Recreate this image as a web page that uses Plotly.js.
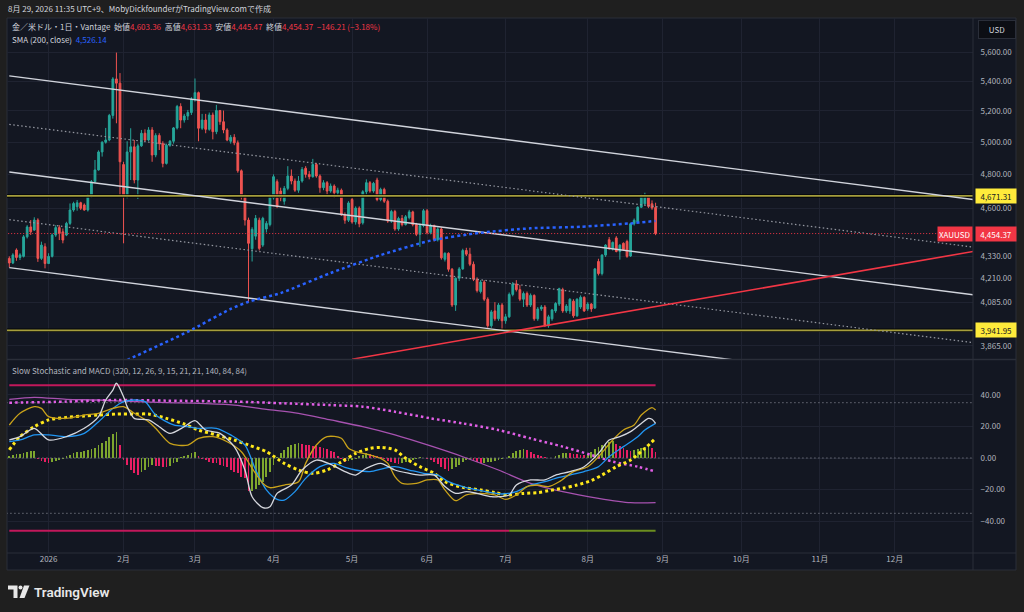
<!DOCTYPE html>
<html><head><meta charset="utf-8">
<script src="https://cdn.plot.ly/plotly-3.0.1.min.js"></script>
<style>html,body{margin:0;padding:0;background:#1f1f1f;overflow:hidden}</style>
</head><body><div id="chart" style="width:1024px;height:612px"></div>
<script>
// ---------------- DATA ----------------
const monthLabels = ['2026','2月','3月','4月','5月','6月','7月','8月','9月','10月','11月','12月'];
const monthStartBar = [11,32,52,74,96,117,139,162,183,205,227,248];

const openP = [4317,4292,4363,4322,4328,4436,4492,4474,4531,4317,
4381,4289,4328,4446,4488,4464,4446,4512,4589,4608,
4631,4618,4589,4666,4756,4827,4938,4999,5013,5171,
5415,5386,4860,4666,4938,4970,4766,4976,5056,5013,
5077,4919,5042,4990,4867,4980,5005,5090,5230,5141,
5167,5190,5278,5322,5088,5141,5081,5174,5066,5203,
5130,5077,5005,5030,4995,4822,4666,4531,4370,4440,
4530,4390,4480,4505,4660,4756,4700,4640,4716,4790,
4760,4705,4760,4837,4800,4786,4860,4790,4720,4750,
4700,4730,4690,4705,4560,4530,4650,4520,4600,4515,
4696,4750,4700,4766,4650,4710,4640,4525,4580,4480,
4540,4505,4545,4578,4505,4450,4500,4585,4460,4500,
4420,4480,4312,4345,4258,4070,4210,4260,4360,4340,
4285,4205,4140,4190,4100,3965,4040,4000,4070,3990,
4010,4125,4180,4150,4100,4130,4070,4120,4000,4050,
4060,3965,4000,4040,4075,4150,4040,4040,4090,4015,
4060,4110,4050,4075,4055,4300,4235,4335,4420,4370,
4430,4355,4400,4410,4330,4510,4520,4605,4625,4665,
4625,4603.36];
const highP = [4328,4345,4372,4345,4446,4502,4531,4547,4541,4409,
4400,4345,4455,4502,4502,4483,4521,4627,4637,4647,
4637,4627,4682,4766,4888,4948,5005,5090,5181,5427,
5598,5455,4877,5005,5088,5013,4990,5077,5081,5095,
5095,5056,5056,5005,4990,5013,5096,5240,5251,5181,
5207,5292,5418,5329,5181,5181,5190,5190,5240,5207,
5203,5088,5045,5050,5010,4830,4680,4545,4490,4560,
4545,4550,4525,4680,4800,4770,4720,4730,4850,4830,
4775,4790,4845,4850,4820,4895,4870,4800,4765,4760,
4745,4740,4720,4715,4575,4640,4660,4610,4610,4705,
4770,4760,4755,4780,4720,4720,4650,4590,4590,4550,
4560,4560,4590,4585,4515,4510,4595,4595,4510,4505,
4490,4490,4350,4350,4265,4215,4270,4370,4375,4375,
4300,4215,4200,4200,4110,4045,4085,4080,4080,4025,
4135,4190,4200,4175,4140,4140,4130,4125,4060,4070,
4070,4020,4050,4085,4160,4160,4075,4105,4100,4105,
4120,4115,4085,4080,4265,4315,4340,4395,4435,4410,
4440,4395,4405,4420,4515,4540,4610,4680,4690,4675,
4645,4631.33];
const lowP = [4268,4286,4304,4308,4322,4427,4446,4470,4298,4308,
4263,4286,4322,4436,4418,4400,4440,4502,4579,4585,
4589,4585,4580,4662,4750,4823,4909,4990,5005,5150,
5120,4666,4400,4657,4766,4746,4653,4970,5005,5005,
4877,4905,4950,4843,4860,4970,4990,5080,5088,5124,
5141,5174,5262,5005,5077,5056,5072,5017,5050,5110,
5056,5005,4990,4980,4810,4650,4500,4087,4300,4420,
4360,4380,4460,4495,4650,4600,4640,4620,4705,4740,
4695,4690,4750,4780,4770,4780,4780,4690,4705,4680,
4690,4660,4670,4555,4510,4520,4510,4505,4490,4505,
4680,4690,4690,4640,4640,4630,4515,4515,4470,4470,
4495,4500,4535,4495,4440,4380,4490,4450,4450,4410,
4410,4310,4300,4245,4060,4040,4195,4255,4330,4275,
4195,4135,4130,4090,3955,3955,3990,3990,3942,3975,
4005,4115,4140,4090,4060,4060,4060,3990,3990,4040,
3960,3955,3990,4030,4065,4030,4030,4025,4005,4010,
4050,4035,4040,4035,4050,4225,4225,4325,4365,4360,
4350,4310,4360,4320,4325,4500,4515,4600,4620,4600,
4590,4445.47];
const closeP = [4292,4336,4322,4336,4436,4492,4464,4531,4317,4390,
4289,4328,4446,4488,4455,4418,4512,4589,4627,4631,
4599,4589,4666,4756,4827,4938,4999,5013,5171,5415,
5386,4877,4666,4938,4970,4766,4976,5056,5013,5077,
4919,5042,4990,4867,4980,5005,5090,5230,5141,5167,
5190,5278,5322,5088,5141,5081,5174,5066,5203,5130,
5077,5013,5030,4995,4822,4666,4531,4400,4478,4541,
4372,4541,4512,4666,4786,4610,4660,4716,4790,4760,
4705,4760,4830,4800,4786,4860,4790,4720,4750,4700,
4730,4690,4705,4560,4530,4630,4520,4600,4510,4696,
4750,4700,4746,4650,4710,4640,4525,4580,4480,4540,
4505,4550,4578,4505,4450,4500,4585,4460,4500,4420,
4480,4320,4345,4258,4070,4210,4260,4360,4340,4285,
4205,4145,4190,4100,3965,4035,4000,4070,3990,4010,
4125,4180,4150,4100,4130,4070,4120,4000,4050,4060,
3965,4010,4045,4078,4155,4040,4065,4100,4015,4100,
4110,4040,4075,4050,4260,4235,4335,4390,4370,4405,
4355,4390,4365,4328,4510,4530,4605,4670,4665,4610,
4600.58,4454.37];

const smaBar = [33,50,62,67,76,90,104,118,132,146,160,174,181];
const smaVal = [3797,3935,4050,4087,4132,4238,4335,4415,4459,4484,4493,4512,4526.14];

const channelBar = [0, 270];
const channelTop = [5436, 4650];
const channelUpperDot = [5113, 4379];
const channelMid = [4814.5, 4123];
const channelLowerDot = [4533.5, 3881];
const channelBottom = [4267, 3654];
const supportBar = [96, 270];
const supportVal = [3801, 4355];
const resistanceLevel = 4671.31;
const supportLevel = 3941.95;
const priceTicks = [3865, 3945, 4085, 4210, 4330, 4600, 4800, 5000, 5200, 5400, 5600];

const oscTicks = [-40, -20, 0, 20, 40];
const oscBand = 46;
const oscGuides = [35, 0, -35];
const lowerBandTurnBar = 140;

const macdHist = [1.2,1.8,2.3,2.6,3.4,3.9,4.4,4.6,-0.8,-1.8,
-2.8,-3.2,-2.4,-1.6,-1.0,-0.4,1.0,2.0,3.0,3.6,
4.0,4.6,5.0,5.6,6.5,8.0,9.5,11.0,13.5,15.0,
16.5,8.5,-1.0,-4.4,-7.6,-9.7,-10.8,-8.6,-7.6,-5.5,
-4.4,-4.8,-5.2,-5.6,-5.8,-5.0,-3.4,-2.3,0.8,1.5,
2.0,3.0,4.0,1.0,-0.5,-1.3,-2.3,-3.0,-3.4,-4.4,
-5.0,-5.9,-7.6,-8.6,-9.7,-11.8,-12.9,-21.0,-20.8,-19.8,
-17.1,-15.0,-11.8,-8.6,-4.4,0.5,2.9,5.1,6.8,8.2,
8.9,9.2,8.9,8.5,8.2,7.6,7.3,6.8,6.1,5.5,
4.6,4.0,1.5,-0.8,-2.5,-2.2,-1.5,-0.5,1.0,2.2,
3.0,2.6,2.0,1.2,0.5,-0.8,-1.8,-2.6,-3.2,-3.6,
-3.0,-2.4,-1.8,-1.0,-0.4,0.5,0.3,-0.5,-1.5,-2.5,
-4.0,-5.5,-6.8,-8.0,-7.2,-5.8,-4.2,-2.8,-1.4,-0.8,
-1.6,-2.6,-3.1,-2.9,-2.6,-2.3,-2.0,-1.5,-0.9,-0.2,
1.0,3.0,4.5,5.2,5.6,5.0,4.0,2.5,2.0,1.0,
0.5,0.3,0.2,1.0,2.0,3.0,3.2,3.0,2.6,2.4,
2.0,1.8,2.5,4.0,5.5,6.8,8.2,9.7,10.3,10.5,
8.9,7.6,6.1,5.1,4.6,4.8,5.5,6.1,6.8,7.6,
6.1,4.0];

const stochWhiteBar = [0,3,7,11,16,21,25,27,29,30,32,33,35,39,42,45,49,52,55,59,63,66,68,71,73,75,79,82,86,90,94,97,100,104,108,112,115,119,122,125,128,131,135,137,140,142,146,150,153,157,161,165,168,171,174,177,179,180,181];
const stochWhite = [11.4,13.5,18.8,11.4,13.5,18.8,26.2,36.7,43.0,47.3,38.8,32.5,25.1,24.1,19.8,15.6,19.8,23.6,17.7,15.6,7.2,-7.6,-24.5,-31.4,-30.8,-22.4,-17.1,-7.6,-1.3,-4.0,-8.6,-10.8,-6.5,-3.4,-7.6,-9.7,-10.8,-10.8,-18.1,-22.4,-21.3,-22.4,-24.5,-24.5,-23.4,-17.1,-13.9,-13.9,-10.8,-8.6,-5.5,2.9,11.4,13.5,16.7,21.9,25.1,24.5,21.9];
const stochGoldBar = [0,3,7,9,11,16,21,25,29,32,35,39,41,45,50,53,57,61,65,68,71,73,77,81,83,86,89,93,95,97,101,104,106,108,110,114,117,120,122,125,128,132,136,139,142,145,148,151,154,158,162,165,169,172,175,177,180,181];
const stochGold = [20.9,28.3,32.5,31.4,26.2,25.1,27.2,28.3,31.4,32.5,28.3,23.0,18.8,9.3,8.2,12.4,13.5,10.3,4.0,-6.5,-16.0,-18.8,-17.1,-15.0,-3.4,8.2,13.5,12.5,6.1,4.0,1.9,-0.2,-3.4,-11.8,-16.0,-16.0,-13.9,-13.9,-20.2,-27.0,-23.4,-22.4,-23.4,-26.2,-23.4,-18.1,-17.1,-18.1,-15.0,-8.6,-5.5,0.8,11.4,17.7,20.9,27.2,31.9,30.4];
const stochBlueBar = [0,3,7,11,16,21,25,29,32,35,38,41,46,50,53,58,62,66,69,72,75,77,80,83,87,91,94,97,101,105,108,112,116,120,123,127,131,135,138,142,146,150,153,157,161,165,168,172,176,178,181];
const stochBlue = [10.3,11.4,14.6,14.6,13.5,15.6,23.0,31.4,35.7,36.7,35.7,27.2,20.9,19.8,18.8,18.8,14.6,8.2,-7.6,-20.2,-26.2,-26.6,-21.3,-12.9,-5.5,-3.4,-5.9,-7.6,-8.6,-6.5,-5.5,-7.6,-9.7,-10.8,-15.0,-18.1,-20.2,-21.9,-22.8,-21.3,-17.1,-15.0,-12.9,-10.8,-8.6,-5.5,0.8,7.2,13.5,17.7,21.9];
const yellowDotBar = [0,3,7,11,16,21,25,30,35,39,44,49,53,58,63,67,72,77,81,85,89,93,97,101,104,108,111,115,119,122,127,132,136,140,144,148,151,155,159,163,166,170,174,178,181];
const yellowDot = [5.1,13.5,19.8,24.1,25.7,26.6,27.2,27.8,27.8,27.8,25.1,21.5,17.7,14.6,11.4,8.2,4.0,-3.4,-7.6,-9.7,-7.5,-2.5,2.9,6.1,6.7,5.1,-0.2,-5.5,-9.7,-15.0,-18.6,-20.2,-21.9,-23.4,-22.4,-21.9,-20.7,-19.2,-17.1,-14.3,-10.8,-5.5,-1.3,6.1,12.4];
const magentaDotBar = [0,16,30,44,63,77,90,99,108,118,127,137,146,155,163,169,176,181];
const magentaDot = [35.0,35.7,36.7,36.3,35.7,34.6,33.5,32.5,29.3,25.1,21.9,17.7,12.4,7.2,1.9,-2.3,-5.5,-8.6];
const purpleBar = [0,7,16,25,35,44,53,63,72,81,90,99,108,118,127,137,146,155,165,174,181];
const purpleVal = [37.1,38.4,37.1,36.7,35.7,35.0,34.6,33.5,30.8,28.3,24.1,19.8,14.6,7.6,0.8,-7.6,-16.0,-21.3,-25.5,-28.3,-28.3];

// ---------------- HELPERS ----------------
const W = 1024, H = 612, L = 7, R = 973, T = 18, B = 553;
const fx = p => (p - L) / (R - L);
const fy = p => (B - p) / (B - T);
const fmt = v => Math.abs(v).toLocaleString('en-US', {minimumFractionDigits: 2, maximumFractionDigits: 2});
const fmtS = v => (v < 0 ? '−' : '') + fmt(v);
const FONT = 'Noto Sans CJK JP, Noto Sans, sans-serif';
const bars = openP.map((_, k) => k);
const last = bars.length - 1;
const lastClose = closeP[last];
const chg = closeP[last] - closeP[last - 1];
const chgPct = chg / closeP[last - 1] * 100;

// ---------------- TRACES ----------------
const traces = [];
traces.push({type:'candlestick', x:bars, open:openP, high:highP, low:lowP, close:closeP,
  xaxis:'x', yaxis:'y', hoverinfo:'skip', whiskerwidth:0,
  increasing:{line:{color:'#26a69a', width:1}, fillcolor:'#26a69a'},
  decreasing:{line:{color:'#ef5350', width:1}, fillcolor:'#ef5350'}});

function pline(x, y, color, width, dash, yaxis) {
  traces.push({type:'scatter', mode:'lines', x:x, y:y, xaxis:'x', yaxis:yaxis || 'y',
    hoverinfo:'skip', line:{color:color, width:width, dash:dash || 'solid'}});
}
const span = [-2, 272];
[resistanceLevel, supportLevel].forEach(lv => {
  pline(span, [lv, lv], '#050608', 3.5);
  pline(span, [lv, lv], '#a59e3c', 1.8);
});
pline(channelBar, channelTop, '#d1d4dc', 1.4);
pline(channelBar, channelUpperDot, '#9598a1', 1.2, '1.5px,2.5px');
pline(channelBar, channelMid, '#d1d4dc', 1.4);
pline(channelBar, channelLowerDot, '#9598a1', 1.2, '1.5px,2.5px');
pline(channelBar, channelBottom, '#d1d4dc', 1.4);
pline(supportBar, supportVal, '#f23645', 1.6);
pline(span, [lastClose, lastClose], '#f23645', 1, '1px,2px');
traces.push({type:'scatter', mode:'lines', x:smaBar, y:smaVal, xaxis:'x', yaxis:'y', hoverinfo:'skip',
  line:{color:'#2962ff', width:2.5, dash:'3px,3px', shape:'spline', smoothing:0.6}});

// lower pane
pline([0, last], [oscBand, oscBand], '#c2185b', 2, 'solid', 'y2');
pline([0, lowerBandTurnBar], [-oscBand, -oscBand], '#c2185b', 2, 'solid', 'y2');
pline([lowerBandTurnBar, last], [-oscBand, -oscBand], '#6b8e1f', 2, 'solid', 'y2');
oscGuides.forEach(g => pline(span, [g, g], '#6a6d78', 1, '1.5px,2.5px', 'y2'));
const histColors = macdHist.map((v, k) => (k === 0 || v > macdHist[k - 1]) ? '#7ea62e' : '#e91e63');
traces.push({type:'bar', x:bars, y:macdHist, xaxis:'x', yaxis:'y2', width:0.5, hoverinfo:'skip',
  marker:{color:histColors, line:{width:0}}});
function sline(x, y, color, width, dash) {
  traces.push({type:'scatter', mode:'lines', x:x, y:y, xaxis:'x', yaxis:'y2', hoverinfo:'skip',
    line:{color:color, width:width, dash:dash || 'solid', shape:'spline', smoothing:0.8}});
}
sline(purpleBar, purpleVal, '#a752b0', 1.3);
sline(magentaDotBar, magentaDot, '#e15fe6', 2.5, '2.5px,3px');
sline(yellowDotBar, yellowDot, '#ffe81a', 3, '3px,3px');
sline(stochBlueBar, stochBlue, '#2196f3', 1.3);
sline(stochGoldBar, stochGold, '#c9a21a', 1.3);
sline(stochWhiteBar, stochWhite, '#d6d8de', 1.3);

// ---------------- LAYOUT ----------------
const grid = '#1f2331';
const axFont = {family: FONT, size: 8, color: '#b2b5be'};
const red = '#f23645';
const legend1 = '金／米ドル・1日・Vantage\u00a0\u00a0始値<span style="color:' + red + '">' + fmt(openP[last]) +
  '</span>\u00a0\u00a0高値<span style="color:' + red + '">' + fmt(highP[last]) +
  '</span>\u00a0\u00a0安値<span style="color:' + red + '">' + fmt(lowP[last]) +
  '</span>\u00a0\u00a0終値<span style="color:' + red + '">' + fmt(closeP[last]) +
  '</span>\u00a0\u00a0<span style="color:' + red + '">' + fmtS(chg) + ' (' + fmtS(chgPct) + '%)</span>';
const legend2 = 'SMA (200, close)\u00a0\u00a0<span style="color:#2962ff">' + fmt(smaVal[smaVal.length - 1]) + '</span>';

function axisLabel(v, bg, fg) {
  return {xref:'paper', yref:'y', x:1, xshift:2, y:Math.log10(v), xanchor:'left', yanchor:'middle',
    text:fmt(v), showarrow:false, bgcolor:bg, width:38, height:12, borderpad:1,
    font:{family:FONT, size:8, color:fg}};
}
const annotations = [
  {xref:'paper', yref:'paper', x:fx(6), y:fy(8.5), xanchor:'left', yanchor:'middle', showarrow:false,
    text:'8月 29, 2026 11:35 UTC+9、MobyDickfounderがTradingView.comで作成', font:{family:FONT, size:8, color:'#d1d4dc'}},
  {xref:'paper', yref:'paper', x:fx(10), y:fy(27), xanchor:'left', yanchor:'middle', showarrow:false,
    text:legend1, font:{family:FONT, size:8, color:'#d1d4dc'}},
  {xref:'paper', yref:'paper', x:fx(10), y:fy(39), xanchor:'left', yanchor:'middle', showarrow:false,
    text:legend2, font:{family:FONT, size:8, color:'#d1d4dc'}},
  {xref:'paper', yref:'paper', x:fx(10), y:fy(370), xanchor:'left', yanchor:'middle', showarrow:false,
    text:'Slow Stochastic and MACD (320, 12, 26, 9, 15, 21, 21, 140, 84, 84)', font:{family:FONT, size:8, color:'#b2b5be'}},
  {xref:'paper', yref:'paper', x:1, xshift:5, y:fy(29), xanchor:'left', yanchor:'middle', showarrow:false,
    text:'USD', width:34, height:15, bgcolor:'#0c0e14', bordercolor:'#2a2e39', borderwidth:1,
    font:{family:FONT, size:8, color:'#d1d4dc'}},
  axisLabel(resistanceLevel, '#ffeb3b', '#131722'),
  axisLabel(supportLevel, '#ffeb3b', '#131722'),
  axisLabel(lastClose, '#f23645', '#ffffff'),
  {xref:'paper', yref:'y', x:1, y:Math.log10(lastClose), xanchor:'right', yanchor:'middle', showarrow:false,
    text:'XAUUSD', bgcolor:'#f23645', height:12, borderpad:1, font:{family:FONT, size:8, color:'#ffffff'}},
  {xref:'paper', yref:'paper', x:fx(32), y:fy(592), xanchor:'left', yanchor:'middle', showarrow:false,
    text:'TradingView', font:{family:'Roboto, sans-serif', size:13.5, color:'#e8e8e8', weight:600}}
];

const shapes = [
  {type:'rect', xref:'paper', yref:'paper', x0:fx(7), x1:fx(1016), y0:fy(570), y1:fy(18),
    fillcolor:'#131722', line:{color:'#2a2e39', width:1}, layer:'below'},
  {type:'line', xref:'paper', yref:'paper', x0:fx(973), x1:fx(973), y0:fy(570), y1:fy(18),
    line:{color:'#2a2e39', width:1}, layer:'above'},
  {type:'line', xref:'paper', yref:'paper', x0:fx(7), x1:fx(1016), y0:fy(359.5), y1:fy(359.5),
    line:{color:'#2a2e39', width:1.5}, layer:'above'},
  {type:'line', xref:'paper', yref:'paper', x0:fx(7), x1:fx(1016), y0:fy(553), y1:fy(553),
    line:{color:'#2a2e39', width:1}, layer:'above'},
  // TradingView logo
  {type:'path', xref:'paper', yref:'paper', fillcolor:'#e8e8e8', line:{width:0},
    path:'M '+fx(8)+' '+fy(585.5)+' L '+fx(17.5)+' '+fy(585.5)+' L '+fx(17.5)+' '+fy(598)+' L '+fx(13.5)+' '+fy(598)+' L '+fx(13.5)+' '+fy(589.5)+' L '+fx(8)+' '+fy(589.5)+' Z'},
  {type:'circle', xref:'paper', yref:'paper', fillcolor:'#e8e8e8', line:{width:0},
    x0:fx(18.5), x1:fx(22.5), y0:fy(589.5), y1:fy(585.5)},
  {type:'path', xref:'paper', yref:'paper', fillcolor:'#e8e8e8', line:{width:0},
    path:'M '+fx(24)+' '+fy(585.5)+' L '+fx(29.5)+' '+fy(585.5)+' L '+fx(24.5)+' '+fy(598)+' L '+fx(19.5)+' '+fy(598)+' Z'}
];

const logTop = Math.log10(5600) + (52.3 - T) / 1823.65;
const logBot = Math.log10(5600) - (359 - 52.3) / 1823.65;

const layout = {
  width: W, height: H,
  margin: {l: L, r: W - R, t: T, b: H - B, pad: 0},
  paper_bgcolor: '#1f1f1f', plot_bgcolor: '#131722',
  showlegend: false, hovermode: false, dragmode: false,
  font: {family: FONT, color: '#b2b5be', size: 8},
  bargap: 0,
  xaxis: {range: [-0.644, 269.9], anchor: 'y2', tickmode: 'array', tickvals: monthStartBar, ticktext: monthLabels,
    showgrid: true, gridcolor: grid, gridwidth: 1, zeroline: false, showline: false, ticks: '',
    tickfont: axFont, rangeslider: {visible: false}, fixedrange: true},
  yaxis: {type: 'log', domain: [(B - 359) / (B - T), 1], range: [logBot, logTop], side: 'right', anchor: 'x',
    tickmode: 'array', tickvals: priceTicks, ticktext: priceTicks.map(fmt),
    showgrid: true, gridcolor: grid, zeroline: false, showline: false,
    ticks: 'outside', ticklen: 5, tickcolor: 'rgba(0,0,0,0)', tickfont: axFont, fixedrange: true},
  yaxis2: {domain: [0, (B - 360) / (B - T)], range: [-60.13, 62.03], side: 'right', anchor: 'x',
    tickmode: 'array', tickvals: oscTicks, ticktext: oscTicks.map(fmtS),
    showgrid: true, gridcolor: grid, zeroline: false, showline: false,
    ticks: 'outside', ticklen: 5, tickcolor: 'rgba(0,0,0,0)', tickfont: axFont, fixedrange: true},
  shapes: shapes,
  annotations: annotations
};

Plotly.newPlot('chart', traces, layout, {staticPlot: true, displayModeBar: false});
</script></body></html>
